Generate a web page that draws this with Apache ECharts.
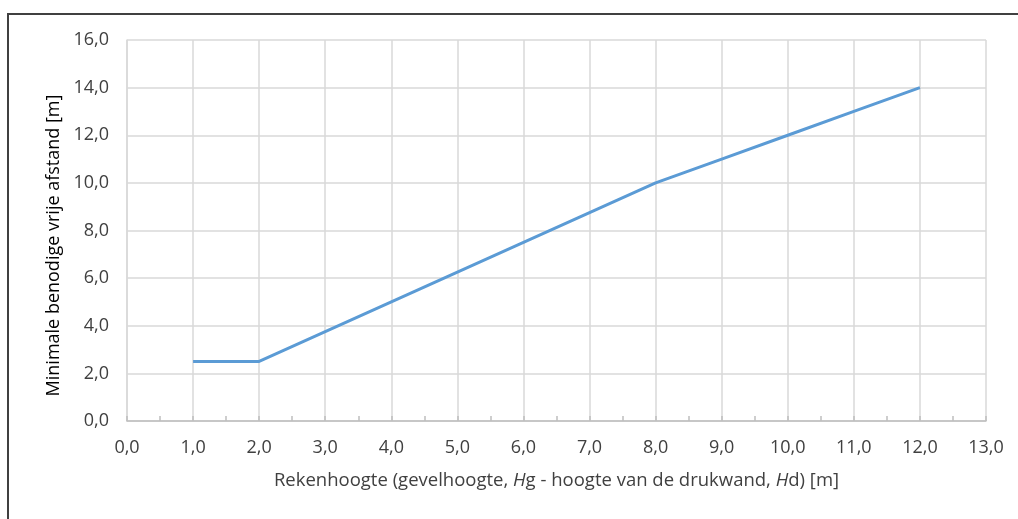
<!DOCTYPE html>
<html>
<head>
<meta charset="utf-8">
<script src="https://cdn.jsdelivr.net/npm/echarts@6/dist/echarts.min.js"></script>
<style>html,body{margin:0;padding:0;background:#fff}#c{width:1018px;height:519px}</style>
</head>
<body>
<div id="c"></div>
<script>
const xValues = [1, 2, 3, 4, 5, 6, 7, 8, 9, 10, 11, 12];
const yValues = [2.5, 2.5, 3.75, 5, 6.25, 7.5, 8.75, 10, 11, 12, 13, 14];
const xAxisRange = [0, 13];
const yAxisRange = [0, 16];
const yAxisTitle = 'Minimale benodige vrije afstand [m]';

const fmt = v => v.toFixed(1).replace('.', ',');
const font = '"Open Sans", sans-serif';
const chart = echarts.init(document.getElementById('c'));
chart.setOption({
  animation: false,
  graphic: [{
    type: 'rect', shape: {x: 8, y: 14, width: 1030, height: 540},
    style: {fill: 'none', stroke: '#404040', lineWidth: 2}
  }],
  grid: {left: 127, right: 32, top: 40, bottom: 98},
  xAxis: {
    type: 'value', min: xAxisRange[0], max: xAxisRange[1], interval: 1,
    minorTick: {show: true, splitNumber: 2, length: 5, lineStyle: {color: '#bfbfbf', width: 1.5}},
    axisTick: {show: true, inside: true, length: 5, lineStyle: {color: '#bfbfbf', width: 1.5}},
    axisLine: {lineStyle: {color: '#bfbfbf', width: 1.5}},
    splitLine: {show: true, lineStyle: {color: '#d9d9d9', width: 1.5}},
    axisLabel: {formatter: fmt, color: '#404040', fontSize: 18, fontFamily: font, margin: 18},
    name: '{n|Rekenhoogte (gevelhoogte, }{i|H}{n|g - hoogte van de drukwand, }{i|H}{n|d) [m]}',
    nameLocation: 'middle', nameGap: 50,
    nameTextStyle: {rich: {
      n: {fontSize: 18.5, fontFamily: font, color: '#404040'},
      i: {fontSize: 18.5, fontFamily: font, color: '#404040', fontStyle: 'italic'}
    }}
  },
  yAxis: {
    type: 'value', min: yAxisRange[0], max: yAxisRange[1], interval: 2,
    axisLine: {show: true, lineStyle: {color: '#d9d9d9', width: 1.5}},
    axisTick: {show: false},
    splitLine: {show: true, lineStyle: {color: '#d9d9d9', width: 1.5}},
    axisLabel: {formatter: fmt, color: '#404040', fontSize: 18, fontFamily: font, margin: 18},
    name: yAxisTitle, nameLocation: 'middle', nameGap: 64,
    nameTextStyle: {fontSize: 18, fontFamily: font, color: '#000', padding: [0, 30, 0, 0]}
  },
  series: [{
    type: 'line', data: xValues.map((x, i) => [x, yValues[i]]),
    showSymbol: false, symbol: 'none',
    lineStyle: {color: '#5b9bd5', width: 3}
  }]
});
</script>
</body>
</html>
